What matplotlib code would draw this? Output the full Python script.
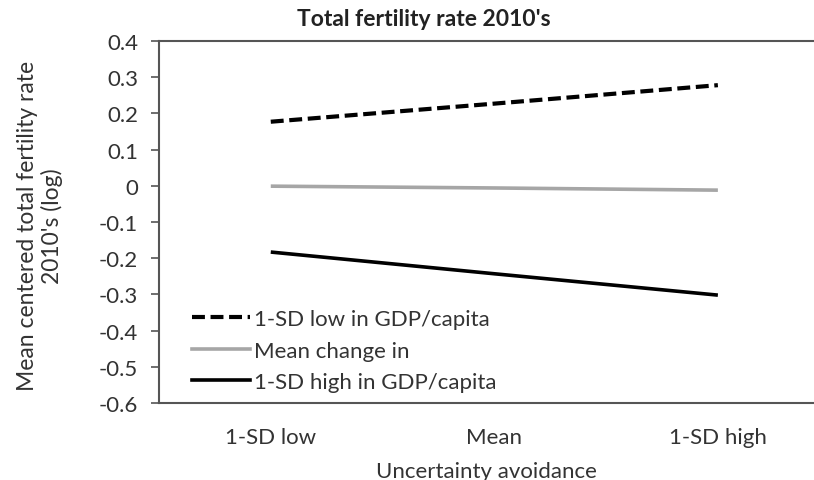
import matplotlib
matplotlib.use("Agg")
import matplotlib.pyplot as plt
from matplotlib.lines import Line2D

plt.rcParams['font.family'] = ['Lato', 'DejaVu Sans']

categories = ["1-SD low", "Mean", "1-SD high"]
low_gdp = [0.177, 0.227, 0.278]
mean_change = [-0.001, -0.006, -0.012]
high_gdp = [-0.183, -0.243, -0.302]
series_labels = ["1-SD low in GDP/capita", "Mean change in", "1-SD high in GDP/capita"]
y_ticks = [0.4, 0.3, 0.2, 0.1, 0, -0.1, -0.2, -0.3, -0.4, -0.5, -0.6]

W, H = 814, 481
fig = plt.figure(figsize=(W / 100, H / 100), dpi=100)
left, right, top, bottom = 159, 814, 42, 404
ax = fig.add_axes([left / W, 1 - bottom / H, (right - left) / W, (bottom - top) / H])

text_color = "#333333"
fs = 16
x = list(range(len(categories)))
ax.plot(x, low_gdp, color="black", lw=3.0, dashes=(3.1, 1.35), solid_capstyle="butt",
        dash_capstyle="butt", label=series_labels[0])
ax.plot(x, mean_change, color="#a6a6a6", lw=2.6, solid_capstyle="butt", label=series_labels[1])
ax.plot(x, high_gdp, color="black", lw=2.6, solid_capstyle="butt", label=series_labels[2])

ax.set_ylim(-0.6, 0.4)
ax.set_xlim(-0.5, 2.43)
ax.set_yticks(y_ticks)
ax.set_yticklabels([("%g" % v) for v in y_ticks])
ax.set_xticks(x)
ax.set_xticklabels(categories)

ax.spines["right"].set_visible(False)
for side in ("left", "bottom", "top"):
    ax.spines[side].set_color("#555555")
    ax.spines[side].set_linewidth(1.5)

ax.tick_params(axis="y", direction="out", length=6, width=1.2, color="#555555",
               labelsize=fs, labelcolor=text_color, pad=9)
ax.tick_params(axis="x", length=0, labelsize=fs, labelcolor=text_color, pad=17)

ax.set_xlabel("Uncertainty avoidance", fontsize=fs, color=text_color, labelpad=10)
fig.text(40 / W, 1 - 226 / H, "Mean centered total fertility rate\n2010's (log)",
         rotation=90, ha="center", va="center", fontsize=16.5, color=text_color,
         linespacing=1.15, multialignment="center")
fig.text(424 / W, 1 - 20 / H, "Total fertility rate 2010's", ha="center", va="center",
         fontsize=16.5, fontweight="bold", color="#222222")

handles = [
    Line2D([], [], color="black", lw=3.0, dashes=(3.1, 1.35)),
    Line2D([], [], color="#a6a6a6", lw=2.6),
    Line2D([], [], color="black", lw=2.6),
]
ax.legend(handles, series_labels, loc="lower left", bbox_to_anchor=(0.05, 0.03),
          frameon=False, fontsize=fs, handlelength=2.6, handletextpad=0.2,
          labelspacing=0.52, labelcolor=text_color, borderaxespad=0, borderpad=0)

fig.savefig("out.png", dpi=100)
